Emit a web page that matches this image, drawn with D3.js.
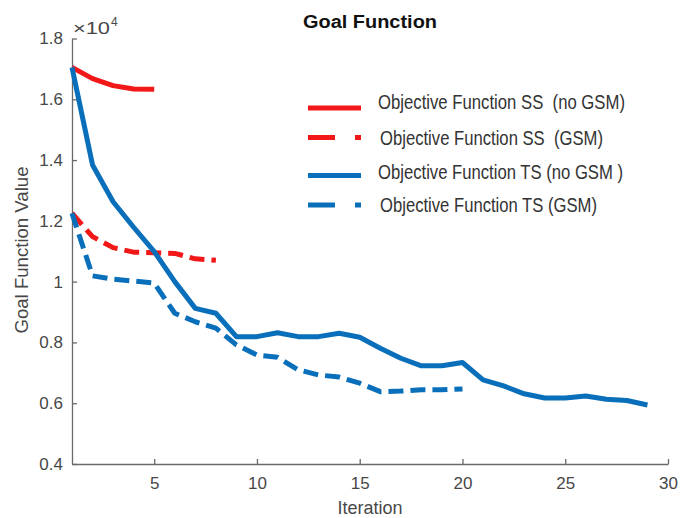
<!DOCTYPE html>
<html>
<head>
<meta charset="utf-8">
<script src="https://cdn.jsdelivr.net/npm/d3@7"></script>
<style>
  html, body { margin: 0; padding: 0; background: #fff; }
  svg { display: block; font-family: "Liberation Sans", Arial, sans-serif; }
  text { white-space: pre; }
</style>
</head>
<body>
<svg id="chart" width="681" height="518"></svg>
<script>
// ---- data ----
const ssNoGSM = [17050, 16680, 16450, 16340, 16330];
const ssGSM = [12250, 11480, 11120, 10970, 10950, 10930, 10750, 10700];
const tsNoGSM = [17050, 13840, 12630, 11790, 10990, 10000, 9120, 8960, 8190, 8190,
                 8320, 8190, 8190, 8300, 8170, 7810, 7480, 7230, 7230, 7340,
                 6770, 6570, 6310, 6170, 6170, 6240, 6130, 6090, 5940];
const tsGSM = [12250, 10190, 10080, 10020, 9950, 8960, 8680, 8470, 7920, 7590,
               7510, 7100, 6930, 6860, 6660, 6380, 6400, 6440, 6440, 6470];
const seriesNames = [
  "Objective Function SS  (no GSM)",
  "Objective Function SS  (GSM)",
  "Objective Function TS (no GSM )",
  "Objective Function TS (GSM)"
];
const yTicks = [4000, 6000, 8000, 10000, 12000, 14000, 16000, 18000];
const yTickLabels = ["0.4", "0.6", "0.8", "1", "1.2", "1.4", "1.6", "1.8"];
const xTicks = [5, 10, 15, 20, 25, 30];
const xTickLabels = ["5", "10", "15", "20", "25", "30"];

// ---- layout ----
const svg = d3.select("#chart");
const x = d3.scaleLinear().domain([1, 30]).range([72, 668]);
const y = d3.scaleLinear().domain([4000, 18000]).range([464, 38.5]);

const RED = "#f21818", BLUE = "#0a6fba";
const styles = [
  { color: RED, dash: null },
  { color: RED, dash: "15,7" },
  { color: BLUE, dash: null },
  { color: BLUE, dash: "15,7" }
];
const allSeries = [ssNoGSM, ssGSM, tsNoGSM, tsGSM];

// ---- axes ----
const axisColor = "#6a6a6a", labelColor = "#474747";
const yAxis = svg.append("g").attr("transform", `translate(${x(1)},0)`)
  .call(d3.axisLeft(y).tickValues(yTicks)
    .tickFormat((d, i) => yTickLabels[i])
    .tickSizeInner(-5).tickSizeOuter(0).tickPadding(9));
const xAxis = svg.append("g").attr("transform", `translate(0,${y(4000)})`)
  .call(d3.axisBottom(x).tickValues(xTicks)
    .tickFormat((d, i) => xTickLabels[i])
    .tickSizeInner(-5).tickSizeOuter(0).tickPadding(13));
[yAxis, xAxis].forEach(g => {
  g.select(".domain").attr("stroke", axisColor).attr("stroke-width", 1.3);
  g.selectAll(".tick line").attr("stroke", axisColor).attr("stroke-width", 1.3);
  g.selectAll(".tick text").attr("fill", labelColor)
    .attr("font-size", 17).attr("font-family", "Liberation Sans, Arial, sans-serif");
});

// exponent label
svg.append("text").attr("x", 73).attr("y", 34).attr("font-size", 16)
  .attr("fill", labelColor).attr("textLength", 37).attr("lengthAdjust", "spacingAndGlyphs")
  .text("×10");
svg.append("text").attr("x", 111).attr("y", 26).attr("font-size", 12)
  .attr("fill", labelColor).text("4");

// ---- lines ----
const line = d3.line().x((d, i) => x(i + 1)).y(d => y(d));
allSeries.forEach((s, k) => {
  svg.append("path").datum(s)
    .attr("d", line)
    .attr("fill", "none")
    .attr("stroke", styles[k].color)
    .attr("stroke-width", 5)
    .attr("stroke-linejoin", "round")
    .attr("stroke-dasharray", styles[k].dash);
});

// ---- title & labels ----
svg.append("text").attr("x", 303).attr("y", 28).attr("font-size", 17.5)
  .attr("font-weight", "bold").attr("fill", "#111")
  .attr("textLength", 134).attr("lengthAdjust", "spacingAndGlyphs")
  .text("Goal Function");
svg.append("text").attr("x", 370).attr("y", 514).attr("text-anchor", "middle")
  .attr("font-size", 18).attr("fill", labelColor).text("Iteration");
svg.append("text").attr("transform", "translate(28,250) rotate(-90)")
  .attr("text-anchor", "middle").attr("font-size", 18).attr("fill", labelColor)
  .attr("textLength", 167).attr("lengthAdjust", "spacingAndGlyphs")
  .text("Goal Function Value");

// ---- legend ----
const legLineY = [108, 137.5, 175.5, 205];
const legTextX = [378, 380, 378, 380];
const legTextY = [109, 145, 179, 212];
const legTextW = [247, 223, 245, 217];
seriesNames.forEach((name, k) => {
  svg.append("line")
    .attr("x1", 308).attr("x2", 361)
    .attr("y1", legLineY[k]).attr("y2", legLineY[k])
    .attr("stroke", styles[k].color).attr("stroke-width", 5)
    .attr("stroke-dasharray", styles[k].dash ? "27,20" : null);
  svg.append("text").attr("x", legTextX[k]).attr("y", legTextY[k])
    .attr("font-size", 19.5).attr("fill", "#333")
    .attr("textLength", legTextW[k]).attr("lengthAdjust", "spacingAndGlyphs")
    .text(name);
});
</script>
</body>
</html>
